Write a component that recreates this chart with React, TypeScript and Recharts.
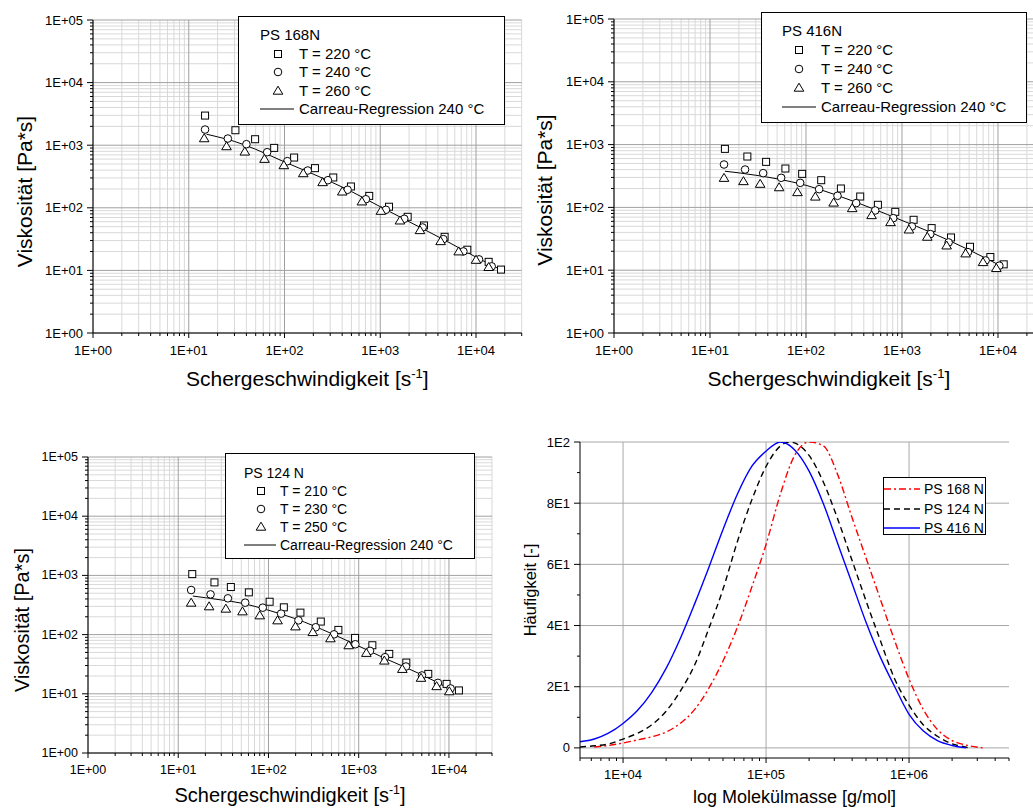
import React from 'react';
import { ComposedChart, Scatter, Line, XAxis, YAxis, CartesianGrid, Legend } from 'recharts';

const FONT = '"Liberation Sans", Arial, Helvetica, sans-serif';

// PS 168N - shear rate [1/s] and viscosity [Pa*s]
const ps168Rate220 = [14.8, 30.7, 49.3, 78, 126, 208, 323, 494, 767, 1234, 1933, 2860, 4700, 8110, 13550, 18250];
const ps168Eta220 = [2973, 1735, 1246, 906, 635, 430, 305, 219, 155, 104, 71.8, 52.2, 34.4, 21.4, 13.7, 10.3];
const ps168Rate240 = [14.8, 25.6, 40, 65.9, 107, 175, 284, 456, 708, 1146, 1782, 2770, 4560, 7380, 10750, 14580];
const ps168Eta240 = [1778, 1277, 1038, 773, 556, 394, 276, 194, 137, 93, 66.7, 48.5, 31.6, 20.1, 15, 11.6];
const ps168Rate260 = [14.5, 24.8, 38.5, 61.8, 98.4, 157, 250, 401, 643, 1016, 1606, 2600, 4270, 6590, 10000, 13560];
const ps168Eta260 = [1277, 952, 783, 598, 474, 353, 254, 180, 125, 88.5, 62, 43.5, 29, 19.9, 14.6, 11.2];
const ps168FitRate = [15.3, 20, 30, 50, 100, 200, 500, 1000, 2000, 5000, 10000, 18000];
const ps168FitEta = [1500, 1360, 1150, 860, 540, 345, 182, 104, 60, 29, 16.3, 10.3];

// PS 416N
const ps416Rate220 = [14.3, 24.5, 38.4, 61, 91.2, 144, 231, 367, 561, 851, 1321, 2036, 3240, 5110, 8320, 11470];
const ps416Eta220 = [855, 646, 531, 416, 342, 271, 200, 149, 110, 85, 63.5, 46.8, 33.2, 23.6, 16.2, 12.4];
const ps416Rate240 = [14, 23.2, 35.8, 55.1, 87, 137, 213, 333, 526, 811, 1268, 1972, 3060, 4870, 7430, 10330];
const ps416Eta240 = [482, 401, 351, 296, 246, 195, 153, 117, 89.4, 67.5, 49.7, 37.6, 27.7, 19.4, 14.3, 11.8];
const ps416Rate260 = [14, 22.3, 33.3, 52.5, 81.5, 125, 194, 303, 482, 760, 1181, 1834, 2917, 4600, 6980, 9610];
const ps416Eta260 = [292, 259, 235, 207, 173, 147, 118, 96.2, 74.5, 57.6, 44, 33.7, 24.5, 18.3, 13.3, 10.7];
const ps416FitRate = [14.3, 20, 30, 50, 100, 200, 500, 1000, 2000, 5000, 10600];
const ps416FitEta = [377, 355, 325, 285, 225, 160, 95, 62, 40, 21, 11.8];

// PS 124 N
const ps124Rate210 = [14.3, 25.2, 38.3, 60.6, 103, 148, 226, 380, 595, 911, 1416, 2180, 3370, 5900, 9420, 12900];
const ps124Eta210 = [1052, 762, 636, 517, 359, 289, 235, 166, 120, 87.9, 66.1, 47.2, 33.7, 21.7, 14.7, 11.4];
const ps124Rate230 = [13.9, 22.8, 35.5, 55.2, 86.5, 138, 215, 334, 533, 918, 1334, 1958, 3340, 5020, 7550, 10430];
const ps124Eta230 = [566, 478, 410, 346, 285, 226, 174, 133, 101, 68.7, 53.1, 41.5, 28.9, 20.4, 15.3, 12.3];
const ps124Rate250 = [13.9, 22, 33.7, 51.5, 80.1, 126, 199, 310, 486, 775, 1216, 1923, 3042, 4900, 7300, 10090];
const ps124Eta250 = [342, 297, 271, 244, 209, 172, 136, 109, 85.6, 65.3, 48.5, 36, 26, 18.4, 13.3, 10.9];
const ps124FitRate = [14.5, 20, 30, 50, 100, 200, 500, 1000, 2000, 5000, 10000, 11000];
const ps124FitEta = [448, 420, 385, 340, 258, 185, 104, 64, 39, 21, 12.3, 11.4];

// molecular mass distribution [g/mol] vs frequency
const mm168 = [6300, 7900, 10000, 12600, 15800, 20000, 25100, 31600, 39800, 50100, 63100, 79400, 100000, 126000, 158000, 200000, 251000, 316000, 398000, 501000, 631000, 794000, 1000000, 1260000, 1580000, 2000000, 2510000, 3300000];
const freq168 = [0.3, 0.8, 1.6, 2.6, 3.6, 5.2, 8, 12.5, 19.5, 28.5, 39.5, 52.5, 66.5, 83, 95.5, 100, 98.8, 89.5, 75.5, 62, 48.5, 35, 22.5, 12.5, 6, 2.4, 0.9, 0];
const mm124 = [5000, 6300, 7900, 10000, 12600, 15800, 20000, 25100, 31600, 39800, 50100, 63100, 79400, 100000, 126000, 147000, 158000, 200000, 251000, 316000, 398000, 501000, 631000, 794000, 1000000, 1260000, 1580000, 2000000, 2510000, 2600000];
const freq124 = [0.3, 0.7, 1.3, 2.9, 4.8, 7.5, 12, 18.5, 27, 39, 52, 67.5, 81, 92, 98.7, 100, 99.7, 95.6, 87, 75, 61.5, 48, 35, 22.5, 14, 7.5, 3.8, 1.3, 0.2, 0];
const mm416 = [5000, 6300, 7900, 10000, 12600, 15800, 20000, 25100, 31600, 39800, 50100, 63100, 79400, 100000, 126000, 158000, 200000, 251000, 316000, 398000, 501000, 631000, 794000, 1000000, 1260000, 1580000, 2000000, 2510000];
const freq416 = [2, 2.9, 4.8, 8, 12.2, 18, 26, 35.7, 47, 59, 71.5, 83, 92, 97, 100, 97.5, 90.5, 80, 67, 54, 41, 29.6, 20, 11, 5.5, 2.4, 0.8, 0];

const viscMajors = [1, 10, 100, 1000, 10000, 100000];
const mmMajors = [10000, 100000, 1000000];
const freqTicks = [0, 10, 20, 30, 40, 50, 60, 70, 80, 90, 100];
const freqMajors = [0, 20, 40, 60, 80, 100];

const zip = (xs: number[], ys: number[]) => xs.map((x, i) => ({ x, y: ys[i] }));

function logTicks(lo: number, hi: number) {
  const t: number[] = [];
  for (let d = 1; d <= hi; d *= 10) {
    for (let m = 1; m <= 9; m++) {
      const v = m * d;
      if (v >= lo && v <= hi) t.push(v);
    }
  }
  return t;
}

const sci = (v: number) => {
  const e = Math.round(Math.log10(v));
  return `1E+${e < 10 ? '0' + e : e}`;
};
const sciShort = (v: number) => {
  if (v === 0) return '0';
  const e = Math.floor(Math.log10(v));
  return `${Math.round(v / Math.pow(10, e))}E${e}`;
};

const xTick = (majors: number[], fmt: (v: number) => string, fontSize: number, dy: number) => (props: any) => {
  const { x, y, payload } = props;
  const major = majors.includes(payload.value);
  return (
    <g>
      <line x1={x} x2={x} y1={y} y2={y + (major ? 5 : 3)} stroke="#000" strokeWidth={1} />
      {major && (
        <text x={x} y={y + dy} textAnchor="middle" dominantBaseline="central" fontSize={fontSize} fontFamily={FONT} fill="#000">
          {fmt(payload.value)}
        </text>
      )}
    </g>
  );
};

const yTick = (majors: number[], fmt: (v: number) => string, fontSize: number) => (props: any) => {
  const { x, y, payload } = props;
  const major = majors.includes(payload.value);
  return (
    <g>
      <line x1={x} x2={x - (major ? 6 : 3)} y1={y} y2={y} stroke="#000" strokeWidth={1} />
      {major && (
        <text x={x - 10} y={y} textAnchor="end" dominantBaseline="central" fontSize={fontSize} fontFamily={FONT} fill="#000">
          {fmt(payload.value)}
        </text>
      )}
    </g>
  );
};

type Kind = 'square' | 'circle' | 'triangle';

const Marker = ({ kind, cx, cy }: { kind: Kind; cx: number; cy: number }) => {
  if (kind === 'square') return <rect x={cx - 3.5} y={cy - 3.5} width={7} height={7} fill="#fff" stroke="#000" strokeWidth={1} />;
  if (kind === 'circle') return <circle cx={cx} cy={cy} r={3.8} fill="#fff" stroke="#000" strokeWidth={1} />;
  return <polygon points={`${cx},${cy - 4.8} ${cx + 4.8},${cy + 3.2} ${cx - 4.8},${cy + 3.2}`} fill="#fff" stroke="#000" strokeWidth={1} />;
};

type LegendGeom = {
  left: number; top: number; width: number; height: number;
  padX: number; symX: number; textX: number; lineEnd: number;
  firstY: number; step: number; fontSize: number;
};

const ViscLegendBox = ({ title, temps, g }: { title: string; temps: string[]; g: LegendGeom }) => {
  const kinds: Kind[] = ['square', 'circle', 'triangle'];
  const rowStyle = (y: number, x: number): React.CSSProperties => ({
    position: 'absolute', left: x, top: y - 10, height: 20, lineHeight: '20px', whiteSpace: 'nowrap',
  });
  return (
    <div style={{ position: 'relative', width: g.width, height: g.height, border: '1px solid #000', boxSizing: 'border-box', background: '#fff', fontFamily: FONT, fontSize: g.fontSize, color: '#000' }}>
      <div style={rowStyle(g.firstY, g.padX)}>{title}</div>
      {temps.map((t, i) => (
        <React.Fragment key={t}>
          <svg style={{ position: 'absolute', left: g.symX - 6, top: g.firstY + g.step * (i + 1) - 6 }} width={12} height={12}>
            <Marker kind={kinds[i]} cx={6} cy={6} />
          </svg>
          <div style={rowStyle(g.firstY + g.step * (i + 1), g.textX)}>{t}</div>
        </React.Fragment>
      ))}
      <svg style={{ position: 'absolute', left: g.padX, top: g.firstY + g.step * 4 - 2 }} width={g.lineEnd - g.padX} height={4}>
        <line x1={0} x2={g.lineEnd - g.padX} y1={2} y2={2} stroke="#000" strokeWidth={1} />
      </svg>
      <div style={rowStyle(g.firstY + g.step * 4, g.textX)}>Carreau-Regression 240 °C</div>
    </div>
  );
};

type Plot = { l: number; t: number; r: number; b: number };

type ViscProps = {
  width: number; height: number; plot: Plot;
  series: { x: number; y: number }[][]; fit: { x: number; y: number }[];
  title: string; temps: string[]; legend: LegendGeom;
  tickFont: number; labelFont: number; yLabelX: number; yLabelDy: number; xLabelDy: number;
};

const ViscosityPanel = (p: ViscProps) => {
  const kinds: Kind[] = ['square', 'circle', 'triangle'];
  const xTicks = logTicks(1, 30000);
  const yTicks = logTicks(1, 100000);
  const minorX = xTicks.filter((v) => !viscMajors.includes(v));
  const minorY = yTicks.filter((v) => !viscMajors.includes(v));
  const xh = p.height - p.plot.b;
  return (
    <ComposedChart width={p.width} height={p.height} margin={{ top: p.plot.t, right: p.width - p.plot.r, left: 0, bottom: 0 }}>
      <CartesianGrid stroke="#d9d9d9" strokeWidth={1} verticalValues={minorX} horizontalValues={minorY} />
      <CartesianGrid stroke="#a0a0a0" strokeWidth={1} verticalValues={viscMajors.slice(0, 5)} horizontalValues={viscMajors} />
      <XAxis
        type="number" dataKey="x" scale="log" domain={[1, 30000]} allowDataOverflow ticks={xTicks} interval={0}
        height={xh} tickLine={false} tickSize={0} tickMargin={0} axisLine={{ stroke: '#000' }}
        tick={xTick(viscMajors, sci, p.tickFont, 17)}
        label={(lp: any) => {
          const vb = lp.viewBox;
          return (
            <text x={vb.x + vb.width / 2} y={vb.y + p.xLabelDy} textAnchor="middle" fontSize={p.labelFont} fontFamily={FONT} fill="#000">
              Schergeschwindigkeit [s
              <tspan dy={-8} fontSize={p.labelFont * 0.62}>-1</tspan>
              <tspan dy={8}>]</tspan>
            </text>
          );
        }}
      />
      <YAxis
        type="number" dataKey="y" scale="log" domain={[1, 100000]} allowDataOverflow ticks={yTicks} interval={0}
        width={p.plot.l} tickLine={false} tickSize={0} tickMargin={0} axisLine={{ stroke: '#000' }}
        tick={yTick(viscMajors, sci, p.tickFont)}
        label={(lp: any) => {
          const vb = lp.viewBox;
          const cy = vb.y + vb.height / 2 + p.yLabelDy;
          return (
            <text x={p.yLabelX} y={cy} transform={`rotate(-90 ${p.yLabelX} ${cy})`} textAnchor="middle" dominantBaseline="central" fontSize={p.labelFont} fontFamily={FONT} fill="#000">
              Viskosität [Pa*s]
            </text>
          );
        }}
      />
      <Line data={p.fit} dataKey="y" type="monotone" stroke="#000" strokeWidth={1} dot={false} isAnimationActive={false} />
      {p.series.map((s, i) => (
        <Scatter key={i} data={s} dataKey="y" isAnimationActive={false}
          shape={(sp: any) => <Marker kind={kinds[i]} cx={sp.cx} cy={sp.cy} />} />
      ))}
      <Legend
        layout="vertical" align="center" verticalAlign="middle"
        wrapperStyle={{ left: p.legend.left, top: p.legend.top, width: p.legend.width, height: p.legend.height }}
        content={() => <ViscLegendBox title={p.title} temps={p.temps} g={p.legend} />}
      />
    </ComposedChart>
  );
};

const mmLegend = [
  { name: 'PS 168 N', color: '#ff0000', dash: '7 3 2 3' },
  { name: 'PS 124 N', color: '#000000', dash: '6 4' },
  { name: 'PS 416 N', color: '#0000ff', dash: undefined },
];

const MassPanel = () => {
  const plot = { l: 60, t: 22, r: 489, b: 338 };
  const W = 513;
  const H = 389;
  const xTicks = logTicks(5000, 5000000);
  const rows = [11, 30.5, 50];
  return (
    <ComposedChart width={W} height={H} margin={{ top: plot.t, right: W - plot.r, left: 0, bottom: 0 }}>
      <CartesianGrid stroke="#a8a8a8" strokeWidth={1} verticalValues={mmMajors} horizontalValues={freqMajors} />
      <XAxis
        type="number" dataKey="x" scale="log" domain={[5000, 5000000]} allowDataOverflow ticks={xTicks} interval={0}
        height={H - plot.b} tickLine={false} tickSize={0} tickMargin={0} axisLine={{ stroke: '#000' }}
        tick={xTick(mmMajors, sci, 13, 16)}
        label={(lp: any) => {
          const vb = lp.viewBox;
          return (
            <text x={vb.x + vb.width / 2} y={vb.y + 45} textAnchor="middle" fontSize={18} fontFamily={FONT} fill="#000">
              log Molekülmasse [g/mol]
            </text>
          );
        }}
      />
      <YAxis
        type="number" dataKey="y" domain={[-3.3, 100]} allowDataOverflow ticks={freqTicks} interval={0}
        width={plot.l} tickLine={false} tickSize={0} tickMargin={0} axisLine={{ stroke: '#000' }}
        tick={yTick(freqMajors, sciShort, 13)}
        label={(lp: any) => {
          const vb = lp.viewBox;
          const cy = vb.y + vb.height / 2 - 10;
          return (
            <text x={10} y={cy} transform={`rotate(-90 10 ${cy})`} textAnchor="middle" dominantBaseline="central" fontSize={16.5} fontFamily={FONT} fill="#000">
              Häufigkeit [-]
            </text>
          );
        }}
      />
      <Line data={zip(mm168, freq168)} dataKey="y" type="monotone" stroke="#ff0000" strokeWidth={1.4} strokeDasharray="7 3 2 3" dot={false} isAnimationActive={false} />
      <Line data={zip(mm124, freq124)} dataKey="y" type="monotone" stroke="#000" strokeWidth={1.4} strokeDasharray="6 4" dot={false} isAnimationActive={false} />
      <Line data={zip(mm416, freq416)} dataKey="y" type="monotone" stroke="#0000ff" strokeWidth={1.4} dot={false} isAnimationActive={false} />
      <Legend
        layout="vertical" align="center" verticalAlign="middle"
        wrapperStyle={{ left: 363, top: 57, width: 103, height: 58 }}
        content={() => (
          <div style={{ position: 'relative', width: 103, height: 58, border: '1px solid #000', boxSizing: 'border-box', background: '#fff', fontFamily: FONT, fontSize: 14, color: '#000' }}>
            {mmLegend.map((m, i) => (
              <React.Fragment key={m.name}>
                <svg style={{ position: 'absolute', left: 0, top: rows[i] - 3 }} width={36} height={6}>
                  <line x1={0} x2={36} y1={3} y2={3} stroke={m.color} strokeWidth={1.4} strokeDasharray={m.dash} />
                </svg>
                <div style={{ position: 'absolute', left: 40, top: rows[i] - 10, height: 20, lineHeight: '20px', whiteSpace: 'nowrap' }}>{m.name}</div>
              </React.Fragment>
            ))}
          </div>
        )}
      />
    </ComposedChart>
  );
};

export default function App() {
  return (
    <div style={{ position: 'absolute', left: 0, top: 0, width: 1033, height: 809, overflow: 'hidden', background: '#fff', fontFamily: FONT }}>
      <div style={{ position: 'absolute', left: 0, top: 0 }}>
        <ViscosityPanel
          width={530} height={400} plot={{ l: 93, t: 20, r: 521.7, b: 333 }}
          series={[zip(ps168Rate220, ps168Eta220), zip(ps168Rate240, ps168Eta240), zip(ps168Rate260, ps168Eta260)]}
          fit={zip(ps168FitRate, ps168FitEta)}
          title="PS 168N" temps={['T = 220 °C', 'T = 240 °C', 'T = 260 °C']}
          legend={{ left: 238, top: 16, width: 267, height: 109, padX: 21, symX: 39, textX: 60, lineEnd: 55, firstY: 18, step: 18.5, fontSize: 15 }}
          tickFont={13} labelFont={21} yLabelX={24} yLabelDy={15} xLabelDy={53}
        />
      </div>
      <div style={{ position: 'absolute', left: 520, top: 0 }}>
        <ViscosityPanel
          width={530} height={400} plot={{ l: 94, t: 19, r: 523.8, b: 333 }}
          series={[zip(ps416Rate220, ps416Eta220), zip(ps416Rate240, ps416Eta240), zip(ps416Rate260, ps416Eta260)]}
          fit={zip(ps416FitRate, ps416FitEta)}
          title="PS 416N" temps={['T = 220 °C', 'T = 240 °C', 'T = 260 °C']}
          legend={{ left: 241, top: 12, width: 266, height: 111, padX: 20, symX: 37, textX: 59, lineEnd: 54, firstY: 18, step: 19, fontSize: 15 }}
          tickFont={13} labelFont={21} yLabelX={24} yLabelDy={14} xLabelDy={53}
        />
      </div>
      <div style={{ position: 'absolute', left: 0, top: 420 }}>
        <ViscosityPanel
          width={500} height={389} plot={{ l: 88, t: 37, r: 492, b: 333 }}
          series={[zip(ps124Rate210, ps124Eta210), zip(ps124Rate230, ps124Eta230), zip(ps124Rate250, ps124Eta250)]}
          fit={zip(ps124FitRate, ps124FitEta)}
          title="PS 124 N" temps={['T = 210 °C', 'T = 230 °C', 'T = 250 °C']}
          legend={{ left: 225, top: 33, width: 250, height: 106, padX: 18, symX: 35, textX: 54, lineEnd: 50, firstY: 19, step: 18, fontSize: 14 }}
          tickFont={12.5} labelFont={20} yLabelX={22} yLabelDy={15} xLabelDy={49}
        />
      </div>
      <div style={{ position: 'absolute', left: 520, top: 420 }}>
        <MassPanel />
      </div>
    </div>
  );
}
